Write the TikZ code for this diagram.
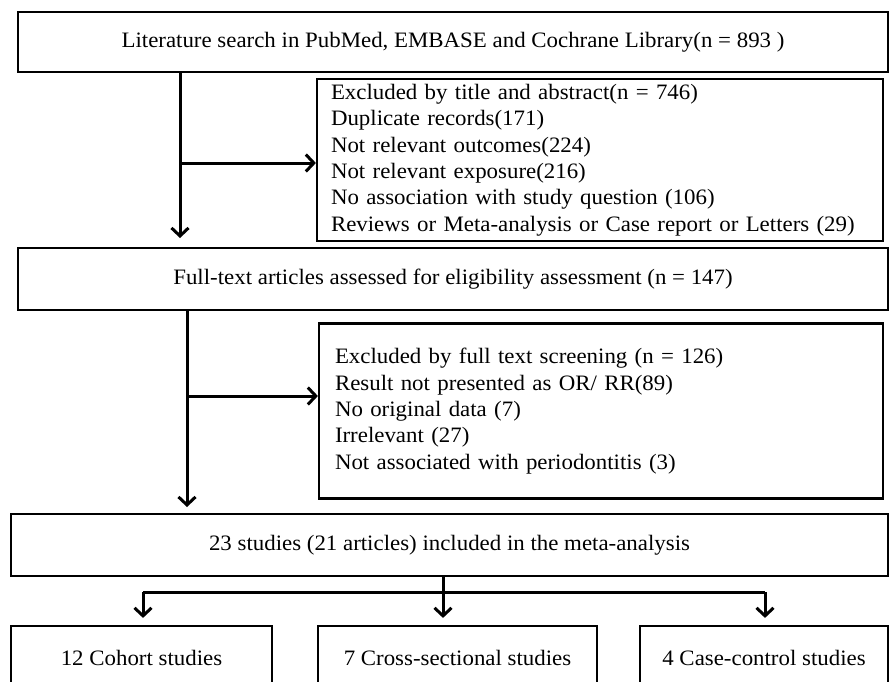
\documentclass[tikz,border=0pt]{standalone}
\usepackage{fontspec}
\setmainfont{Liberation Serif}[FakeStretch=1.04]
\usepackage{tikz}
\usetikzlibrary{arrows.meta,positioning}

\begin{document}
\begin{tikzpicture}[x=1pt,y=-1pt,
  box/.style={draw,line width=2.2pt,inner sep=0pt,font=\fontsize{22}{26.4}\selectfont},
  exbox/.style={box,align=left},
  arr/.style={line width=3pt,-{Straight Barb[length=8pt,width=17pt]}}]
  \useasboundingbox (0,0) rectangle (894,681);
  \clip (0,0) rectangle (894,681);
  % main column
  \node[box,minimum width=870pt,minimum height=60pt] (search) at (453,42)
    {Literature search in PubMed, EMBASE and Cochrane Library(n = 893 )};
  \node[exbox,inner xsep=14pt,text width=538pt,minimum height=162pt] (excl1) at (600,160)
    {Excluded by title and abstract(n = 746)\\
     Duplicate records(171)\\
     Not relevant outcomes(224)\\
     Not relevant exposure(216)\\
     No association with study question (106)\\
     Reviews or Meta-analysis or Case report or Letters (29)};
  \node[box,minimum width=870pt,minimum height=62pt] (fulltext) at (453,279)
    {Full-text articles assessed for eligibility assessment (n = 147)};
  \node[exbox,inner xsep=16pt,text width=532pt,minimum height=175pt] (excl2) at (601,411)
    {Excluded by full text screening (n = 126)\\
     Result not presented as OR/ RR(89)\\
     No original data (7)\\
     Irrelevant (27)\\
     Not associated with periodontitis (3)};
  \node[box,minimum width=877pt,minimum height=62pt] (incl) at (449.5,545)
    {23 studies (21 articles) included in the meta-analysis};
  % study types (boxes run off the bottom edge)
  \node[box,minimum width=261pt,minimum height=64pt] (cohort) at (141.5,658) {12 Cohort studies};
  \node[box,minimum width=279pt,minimum height=64pt] (cross) at (457.5,658) {7 Cross-sectional studies};
  \node[box,minimum width=248pt,minimum height=64pt] (casectl) at (764,658) {4 Case-control studies};

  % arrows
  \coordinate (d1) at (180,238);
  \coordinate (b1) at (180,163);
  \draw[arr] (d1 |- search.south) -- (d1);
  \draw[arr] (b1) -- (b1 -| excl1.west);
  \coordinate (d2) at (187,507);
  \coordinate (b2) at (187,396);
  \draw[arr] (d2 |- fulltext.south) -- (d2);
  \draw[arr] (b2) -- (b2 -| excl2.west);
  % split to the three designs
  \coordinate (split) at (443,592);
  \coordinate (s1) at (143,592);
  \coordinate (s3) at (765,592);
  \draw[line width=3pt] (split |- incl.south) -- (split);
  \draw[line width=3pt] (s1) -- (s3);
  \draw[arr,shorten >=7pt] (s1) -- (s1 |- cohort.north);
  \draw[arr,shorten >=7pt] (split) -- (split |- cross.north);
  \draw[arr,shorten >=7pt] (s3) -- (s3 |- casectl.north);
\end{tikzpicture}
\end{document}
